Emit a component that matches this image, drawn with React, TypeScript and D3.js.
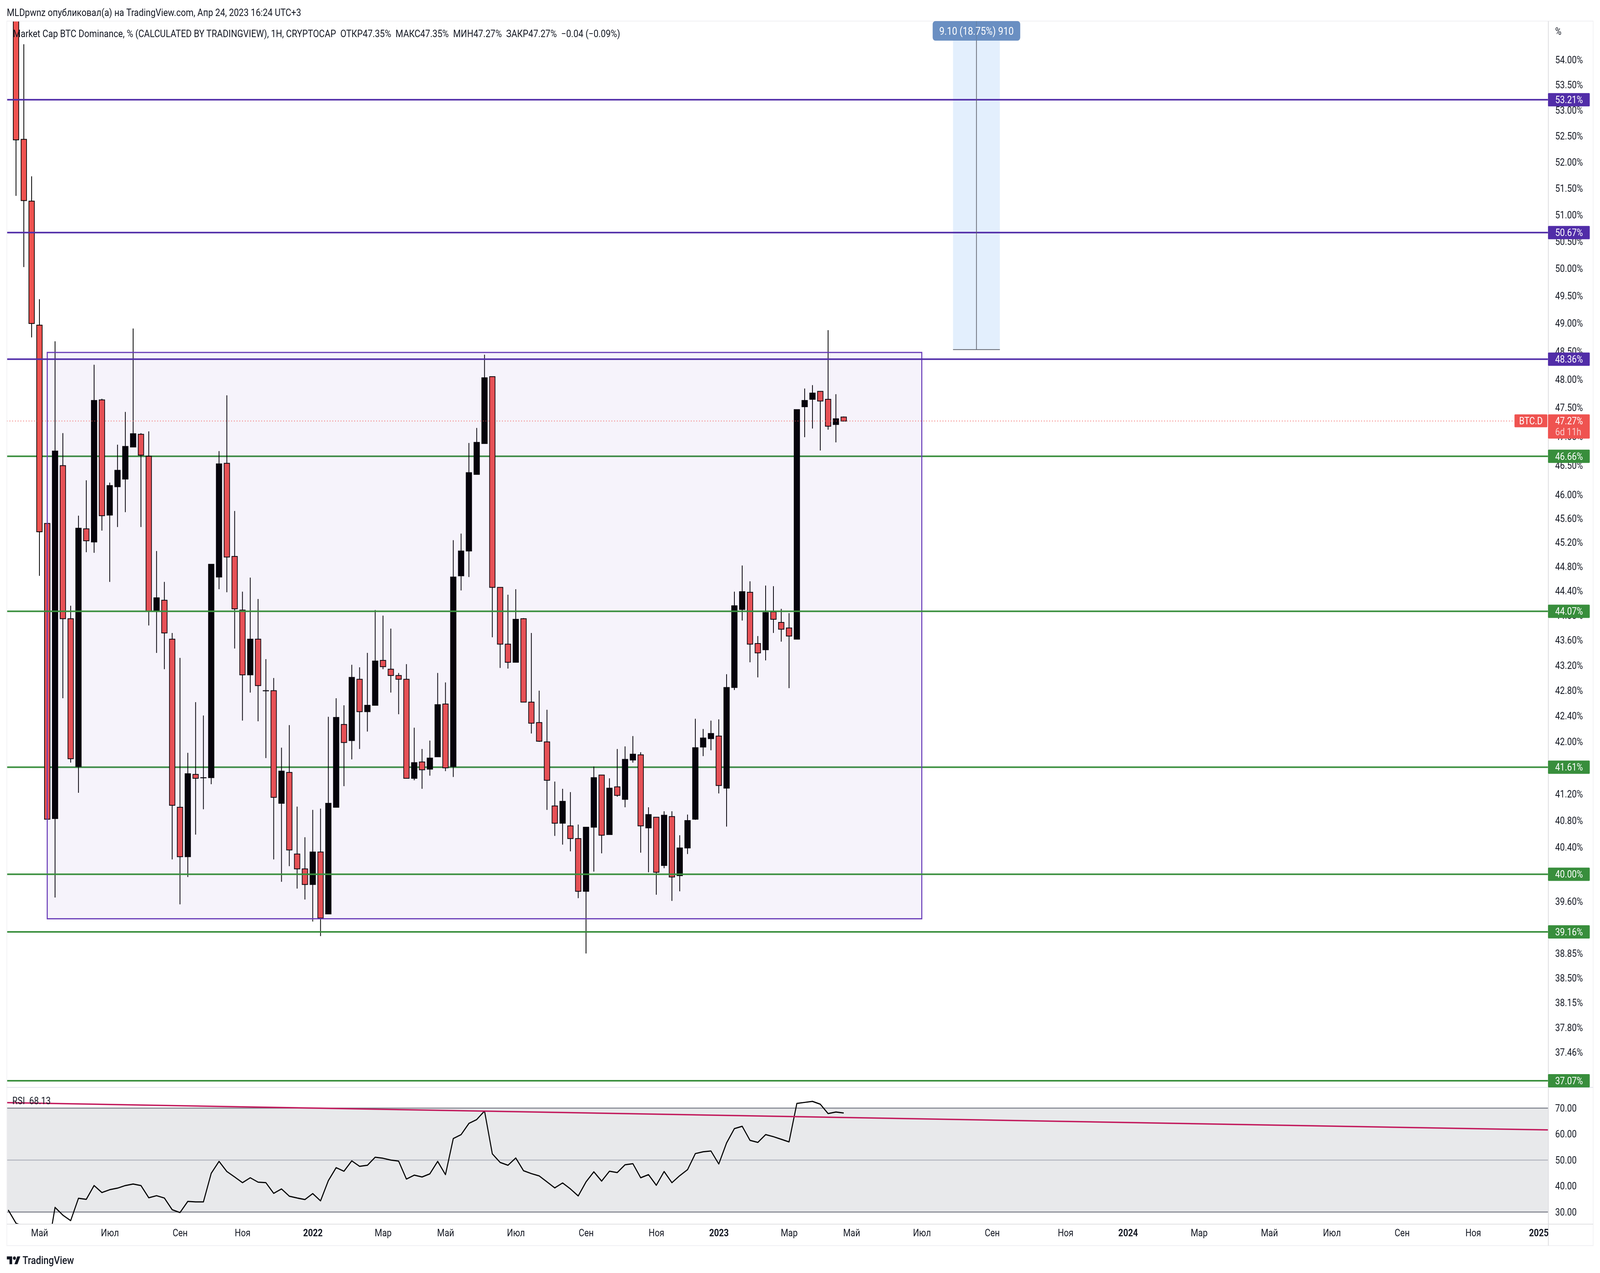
import * as d3 from "d3";
import { useEffect, useRef } from "react";

const opens = [56.0, 52.44, 51.26, 48.97, 45.52, 40.83, 46.5, 43.95, 41.62, 45.43, 45.21, 47.64, 45.66, 46.14, 46.27, 46.82, 47.04, 46.66, 44.07, 44.25, 43.62, 41.0, 40.26, 41.5, 41.45, 41.45, 44.63, 46.54, 44.97, 44.09, 43.05, 43.62, 42.8, 42.8, 41.06, 41.53, 40.3, 40.08, 39.85, 40.33, 39.42, 41.0, 42.27, 42.02, 42.98, 42.47, 42.57, 43.28, 43.14, 43.04, 42.98, 41.44, 41.69, 41.58, 41.77, 42.59, 41.62, 44.65, 45.06, 46.35, 46.88, 48.05, 44.46, 43.54, 43.25, 43.95, 42.62, 42.3, 42.0, 41.02, 40.76, 40.72, 40.53, 39.75, 40.7, 41.49, 40.59, 41.31, 41.12, 41.72, 41.8, 40.69, 40.85, 40.13, 40.86, 39.98, 40.39, 40.82, 41.92, 42.05, 42.09, 41.29, 42.85, 44.1, 44.38, 43.55, 43.45, 44.06, 43.89, 43.8, 43.62, 47.52, 47.65, 47.79, 47.65, 47.21, 47.34];
const highs = [56.0, 54.31, 51.73, 49.44, 45.52, 48.68, 47.06, 44.16, 45.65, 46.25, 48.26, 47.66, 46.21, 46.86, 47.43, 48.91, 47.06, 47.09, 45.06, 44.55, 43.72, 43.32, 41.83, 42.62, 42.41, 44.84, 46.75, 47.72, 45.73, 44.39, 44.62, 44.27, 43.3, 43.0, 41.91, 42.26, 41.01, 40.55, 40.96, 40.98, 42.39, 42.68, 42.57, 43.21, 43.17, 43.4, 44.09, 44.0, 43.79, 43.08, 43.22, 42.22, 41.89, 42.02, 43.08, 42.93, 45.24, 45.35, 46.89, 47.15, 48.44, 48.05, 44.46, 44.34, 44.43, 43.96, 43.72, 42.8, 42.5, 41.39, 41.28, 41.23, 40.74, 40.7, 41.62, 41.49, 41.44, 41.89, 41.93, 42.09, 41.84, 41.0, 40.85, 40.94, 40.94, 40.58, 40.89, 42.36, 42.2, 42.33, 42.35, 43.06, 44.39, 44.82, 44.56, 43.67, 44.49, 44.48, 44.11, 44.04, 47.47, 47.84, 47.9, 47.79, 48.88, 47.74, 47.35];
const lows = [51.36, 50.03, 48.75, 44.65, 40.82, 39.66, 42.68, 41.68, 41.22, 45.04, 45.03, 45.4, 44.55, 45.46, 45.71, 46.82, 45.46, 43.84, 43.4, 43.14, 40.22, 39.56, 39.96, 40.59, 40.97, 41.35, 44.43, 44.38, 43.47, 42.33, 42.77, 42.32, 41.75, 40.22, 39.89, 40.12, 39.79, 39.63, 39.31, 39.1, 39.42, 41.0, 41.32, 41.73, 41.89, 42.16, 42.57, 43.14, 42.77, 42.43, 41.44, 41.41, 41.28, 41.48, 41.77, 41.55, 41.46, 44.41, 44.63, 46.35, 46.88, 43.65, 43.16, 43.15, 43.25, 42.62, 42.13, 42.0, 40.96, 40.57, 40.44, 40.34, 39.65, 38.85, 40.04, 40.31, 40.59, 41.16, 41.0, 41.68, 40.32, 40.03, 39.7, 40.09, 39.61, 39.75, 40.3, 40.81, 41.78, 41.87, 41.21, 40.71, 42.81, 43.92, 43.25, 43.01, 43.28, 43.72, 43.58, 42.84, 43.62, 46.99, 47.14, 46.76, 47.12, 46.9, 47.27];
const closes = [52.43, 51.27, 49.0, 45.38, 40.82, 46.75, 43.95, 41.74, 45.44, 45.23, 47.63, 45.65, 46.16, 46.42, 46.83, 47.05, 46.68, 44.07, 44.29, 43.72, 41.03, 40.26, 41.51, 41.44, 41.45, 44.84, 46.53, 44.96, 44.11, 43.05, 43.62, 42.88, 42.8, 41.15, 41.55, 40.36, 40.08, 39.85, 40.33, 39.36, 41.06, 42.38, 41.99, 43.01, 42.47, 42.57, 43.27, 43.18, 43.04, 42.98, 41.44, 41.68, 41.57, 41.75, 42.58, 41.6, 44.63, 45.06, 46.38, 46.9, 48.03, 44.46, 43.54, 43.25, 43.94, 42.62, 42.29, 42.01, 41.41, 40.76, 41.09, 40.53, 39.75, 40.7, 41.45, 40.58, 41.29, 41.18, 41.73, 41.81, 40.72, 40.89, 40.03, 40.88, 39.96, 40.39, 40.8, 41.91, 42.06, 42.13, 41.33, 42.85, 44.16, 44.39, 43.54, 43.4, 44.05, 43.94, 43.78, 43.67, 47.47, 47.63, 47.76, 47.62, 47.18, 47.31, 47.27];

// RSI starts one bar before the first candle
const rsiValues = [30.8, 25.7, 24.5, 21, 18, 14, 31.8, 28.8, 26.7, 35.3, 34.9, 40.2, 37.5, 38.6, 39.2, 40.2, 40.8, 40.2, 35.5, 36.3, 35.4, 30.9, 29.8, 34.1, 33.9, 33.9, 44.9, 49.5, 45.6, 43.5, 41.3, 43.2, 41.5, 41.3, 37.2, 38.9, 36.1, 35.4, 34.8, 37.1, 34.3, 42.1, 47.1, 45.7, 49.7, 47.6, 48.0, 51.1, 50.7, 50.0, 49.6, 42.7, 44.2, 43.5, 44.7, 49.5, 44.4, 58.3, 59.8, 64.1, 65.6, 68.9, 52.4, 49.1, 48.0, 50.8, 45.9, 44.8, 43.9, 41.6, 39.3, 41.2, 38.9, 36.2, 41.6, 45.5, 41.9, 45.7, 45.2, 48.2, 48.6, 43.2, 44.4, 40.3, 45.6, 41.3, 44.0, 46.3, 52.5, 53.2, 53.5, 48.5, 56.6, 62.1, 63.0, 57.6, 56.8, 59.8, 59.0, 58.0, 57.0, 71.8, 72.2, 72.6, 71.5, 67.9, 68.5, 68.13];

const priceTicks = [54, 53.5, 53, 52.5, 52, 51.5, 51, 50.5, 50, 49.5, 49, 48.5, 48, 47.5, 47, 46.5, 46, 45.6, 45.2, 44.8, 44.4, 44, 43.6, 43.2, 42.8, 42.4, 42, 41.6, 41.2, 40.8, 40.4, 40, 39.6, 38.85, 38.5, 38.15, 37.8, 37.46];
const rsiTicks = [70, 60, 50, 40, 30];

const timeLabels = ["Май", "Июл", "Сен", "Ноя", "2022", "Мар", "Май", "Июл", "Сен", "Ноя", "2023", "Мар", "Май", "Июл", "Сен", "Ноя", "2024", "Мар", "Май", "Июл", "Сен", "Ноя", "2025"];
const timeIndex = [3, 12, 21, 29, 38, 47, 55, 64, 73, 82, 90, 99, 107, 116, 125, 134.4, 142.4, 151.5, 160.5, 168.5, 177.5, 186.6, 195];

const purpleLevels = [53.21, 50.67, 48.36];
const greenLevels = [46.66, 44.07, 41.61, 40.0, 39.16, 37.07];
const levelsUnderCandles = [46.66, 41.61];

const zoneTop = 48.48;
const zoneBottom = 39.35;
const zoneStart = 4;
const zoneEnd = 116;

const positionBottom = 48.53;
const positionTop = 57.63;
const positionStart = 120;
const positionEnd = 126;

const trendStart = { bar: -1.17, value: 72.1 };
const trendEnd = { bar: 196.2, value: 61.6 };

const lastPrice = 47.27;
const RED = "#ef5350";
const GREEN = "#388e3c";
const PURPLE = "#512da8";
const TEXT = "#131722";
const FONT = "Roboto, sans-serif";

const W = 4678;
const H = 3258;
const left = 20;
const axisX = 4527;
const rightEdge = 4658;
const top = 54;
const paneBottom = 2783;
const rsiBottom = 3133;
const bottom = 3188;

export default function App() {
  const ref = useRef<SVGSVGElement | null>(null);

  useEffect(() => {
    if (!ref.current) return;
    const svg = d3.select(ref.current);
    svg.selectAll("*").remove();
    svg.attr("font-family", FONT);

    const x = d3.scaleLinear().domain([0, 106]).range([46.8, 46.8 + 22.83 * 106]);
    const y = d3.scaleLog().domain([54, 37.07]).range([153, 2766]);
    const r = d3.scaleLinear().domain([70, 30]).range([2836, 3102]);

    const defs = svg.append("defs");
    const addClip = (id: string, yy: number, h: number) =>
      defs.append("clipPath").attr("id", id).append("rect")
        .attr("x", left).attr("y", yy).attr("width", axisX - left).attr("height", h);
    addClip("main", top, paneBottom - top);
    addClip("rsi", paneBottom, rsiBottom - paneBottom);
    addClip("time", rsiBottom, bottom - rsiBottom);

    svg.append("rect").attr("width", W).attr("height", H).attr("fill", "#fff");

    const main = svg.append("g").attr("clip-path", "url(#main)");

    const drawLevels = (values: number[], color: string) => {
      main.append("g").selectAll("line").data(values).enter().append("line")
        .attr("x1", left).attr("x2", axisX)
        .attr("y1", (d) => y(d)).attr("y2", (d) => y(d))
        .attr("stroke", color).attr("stroke-width", 4);
    };

    // long position box
    main.append("rect")
      .attr("x", x(positionStart)).attr("width", x(positionEnd) - x(positionStart))
      .attr("y", y(positionTop)).attr("height", y(positionBottom) - y(positionTop))
      .attr("fill", "#e3effd");
    main.append("line")
      .attr("x1", x(positionStart)).attr("x2", x(positionEnd))
      .attr("y1", y(positionBottom)).attr("y2", y(positionBottom))
      .attr("stroke", "#5d606b").attr("stroke-width", 2);

    drawLevels(levelsUnderCandles, GREEN);

    const bars = d3.range(opens.length);

    main.append("g").selectAll("line").data(bars).enter().append("line")
      .attr("x1", (i) => x(i)).attr("x2", (i) => x(i))
      .attr("y1", (i) => y(highs[i])).attr("y2", (i) => y(lows[i]))
      .attr("stroke", "#000").attr("stroke-width", 2.3);

    const bodyTop = (i: number) => y(Math.max(opens[i], closes[i]));
    const bodyBottom = (i: number) => y(Math.min(opens[i], closes[i]));
    main.append("g").selectAll("rect").data(bars).enter().append("rect")
      .attr("x", (i) => x(i) - 8)
      .attr("width", 16)
      .attr("y", (i) => bodyTop(i))
      .attr("height", (i) => Math.max(bodyBottom(i) - bodyTop(i), 0.5))
      .attr("fill", (i) => (closes[i] < opens[i] ? RED : "#000"))
      .attr("stroke", "#000").attr("stroke-width", 2);

    // range box sits over the candles, that's why its edge shows through them
    main.append("rect")
      .attr("x", x(zoneStart)).attr("width", x(zoneEnd) - x(zoneStart))
      .attr("y", y(zoneTop)).attr("height", y(zoneBottom) - y(zoneTop))
      .attr("fill", "#673ab7").attr("fill-opacity", 0.06)
      .attr("stroke", "#673ab7").attr("stroke-width", 3);

    drawLevels(purpleLevels, PURPLE);
    drawLevels(greenLevels.filter((v) => !levelsUnderCandles.includes(v)), GREEN);

    main.append("line")
      .attr("x1", x(123)).attr("x2", x(123))
      .attr("y1", top).attr("y2", y(positionBottom))
      .attr("stroke", "#5d606b").attr("stroke-width", 2);

    main.append("line")
      .attr("x1", left).attr("x2", 4428)
      .attr("y1", y(lastPrice)).attr("y2", y(lastPrice))
      .attr("stroke", RED).attr("stroke-width", 2).attr("stroke-dasharray", "2 6");

    // RSI pane
    const rsiPane = svg.append("g").attr("clip-path", "url(#rsi)");
    rsiPane.append("rect")
      .attr("x", left).attr("width", axisX - left)
      .attr("y", r(70)).attr("height", r(30) - r(70))
      .attr("fill", "#e8e9eb");
    rsiPane.append("g").selectAll("line").data([70, 50, 30]).enter().append("line")
      .attr("x1", left).attr("x2", axisX)
      .attr("y1", (d) => r(d)).attr("y2", (d) => r(d))
      .attr("stroke", (d) => (d === 50 ? "#b2b5be" : "#787b86"))
      .attr("stroke-width", 2.5);
    const rsiLine = d3.line<number>().x((_, i) => x(i - 1)).y((d) => r(d));
    rsiPane.append("path").attr("d", rsiLine(rsiValues))
      .attr("fill", "none").attr("stroke", "#000").attr("stroke-width", 3).attr("stroke-linejoin", "round");
    rsiPane.append("line")
      .attr("x1", x(trendStart.bar)).attr("x2", x(trendEnd.bar))
      .attr("y1", r(trendStart.value)).attr("y2", r(trendEnd.value))
      .attr("stroke", "#c2185b").attr("stroke-width", 3.5);

    // frame and separators
    const frame = svg.append("g");
    frame.append("rect").attr("x", left).attr("y", top)
      .attr("width", rightEdge - left).attr("height", bottom - top)
      .attr("fill", "none").attr("stroke", "#f0f0f3").attr("stroke-width", 2);
    frame.append("line").attr("x1", axisX).attr("x2", axisX).attr("y1", top).attr("y2", bottom)
      .attr("stroke", "#e0e0e3").attr("stroke-width", 2.5);
    frame.append("line").attr("x1", left).attr("x2", rightEdge).attr("y1", paneBottom).attr("y2", paneBottom)
      .attr("stroke", "#e0e3eb").attr("stroke-width", 2);
    frame.append("line").attr("x1", left).attr("x2", rightEdge).attr("y1", rsiBottom).attr("y2", rsiBottom)
      .attr("stroke", "#e0e0e3").attr("stroke-width", 2);

    // axes
    const priceAxis = svg.append("g")
      .attr("transform", "translate(4547,0)")
      .call(d3.axisRight(y).tickValues(priceTicks).tickSize(0).tickPadding(0)
        .tickFormat((d) => `${(+d).toFixed(2)}%`));
    const rsiAxis = svg.append("g")
      .attr("transform", "translate(4547,0)")
      .call(d3.axisRight(r).tickValues(rsiTicks).tickSize(0).tickPadding(0)
        .tickFormat((d) => (+d).toFixed(2)));
    const timeAxis = svg.append("g")
      .attr("clip-path", "url(#time)")
      .append("g")
      .attr("transform", "translate(0,3146)")
      .call(d3.axisBottom(x).tickValues(timeIndex).tickSize(0).tickPadding(0)
        .tickFormat((_, i) => timeLabels[i]));
    [priceAxis, rsiAxis, timeAxis].forEach((a) => {
      a.select(".domain").remove();
      a.attr("font-family", FONT).attr("font-size", 25);
      a.selectAll("text").attr("fill", TEXT);
    });
    timeAxis.selectAll<SVGTextElement, number>("text")
      .attr("font-weight", (_, i) => (/^\d/.test(timeLabels[i]) ? 700 : 400));

    // price tags
    const tagData = [
      ...purpleLevels.map((v) => ({ v, c: PURPLE })),
      ...greenLevels.map((v) => ({ v, c: GREEN })),
    ];
    const tags = svg.append("g").selectAll("g").data(tagData).enter().append("g");
    tags.append("rect").attr("x", 4526).attr("width", 122).attr("y", (d) => y(d.v) - 17).attr("height", 34)
      .attr("rx", 2).attr("fill", (d) => d.c);
    tags.append("text").attr("x", 4547).attr("y", (d) => y(d.v)).attr("dy", "0.35em")
      .attr("fill", "#fff").attr("font-size", 25).text((d) => `${d.v.toFixed(2)}%`);

    const py = y(lastPrice);
    svg.append("rect").attr("x", 4526).attr("y", py - 17).attr("width", 122).attr("height", 62).attr("rx", 2).attr("fill", RED);
    svg.append("text").attr("x", 4547).attr("y", py).attr("dy", "0.35em").attr("fill", "#fff").attr("font-size", 25).text(`${lastPrice.toFixed(2)}%`);
    svg.append("text").attr("x", 4547).attr("y", py + 28).attr("dy", "0.35em").attr("fill", "#fff").attr("fill-opacity", 0.7).attr("font-size", 25).text("6d 11h");
    svg.append("rect").attr("x", 4428).attr("y", py - 17).attr("width", 96).attr("height", 33).attr("rx", 2).attr("fill", RED);
    svg.append("text").attr("x", 4476).attr("y", py).attr("dy", "0.35em").attr("text-anchor", "middle").attr("fill", "#fff").attr("font-size", 25).text("BTC.D");

    svg.append("text").attr("x", 4547).attr("y", 80).attr("dy", "0.35em").attr("fill", TEXT).attr("font-size", 25).text("%");

    // position label
    const labelX = x(123);
    svg.append("rect").attr("x", labelX - 128).attr("y", 54).attr("width", 256).attr("height", 50).attr("rx", 8)
      .attr("fill", "#6a8fc2");
    svg.append("line").attr("x1", labelX).attr("x2", labelX).attr("y1", 54).attr("y2", 104)
      .attr("stroke", "#5d606b").attr("stroke-opacity", 0.35).attr("stroke-width", 2);
    svg.append("text").attr("x", labelX).attr("y", 80).attr("dy", "0.35em").attr("text-anchor", "middle")
      .attr("fill", "#fff").attr("font-size", 27).text("9.10 (18.75%) 910");

    // header texts
    svg.append("text").attr("x", 20).attr("y", 32).attr("dy", "0.35em").attr("fill", TEXT).attr("font-size", 25.6)
      .text("MLDpwnz опубликовал(а) на TradingView.com, Апр 24, 2023 16:24 UTC+3");
    svg.append("text").attr("x", 38).attr("y", 86).attr("dy", "0.35em").attr("fill", TEXT).attr("font-size", 25.7)
      .style("white-space", "pre")
      .text("Market Cap BTC Dominance, % (CALCULATED BY TRADINGVIEW), 1H, CRYPTOCAP  ОТКР47.35%  МАКС47.35%  МИН47.27%  ЗАКР47.27%  −0.04 (−0.09%)");
    svg.append("text").attr("x", 36).attr("y", 2817).attr("dy", "0.35em").attr("fill", TEXT).attr("font-size", 25)
      .style("white-space", "pre").text("RSI  68.13");

    // logo
    const logo = svg.append("g").attr("transform", "translate(20,3211) scale(1.11)").attr("fill", "#131722");
    logo.append("path").attr("d", "M14 22H7V11H0V4h14v18zM28 22h-8l7.5-18h8L28 22z");
    logo.append("circle").attr("cx", 20).attr("cy", 8).attr("r", 4);
    svg.append("text").attr("x", 66).attr("y", 3226).attr("dy", "0.35em").attr("fill", TEXT)
      .attr("font-size", 27).attr("font-weight", 500).text("TradingView");
  }, []);

  // the window came out narrower than 4678 on the first run, so fill whatever it is
  return (
    <svg
      ref={ref}
      viewBox={`0 0 ${W} ${H}`}
      preserveAspectRatio="none"
      style={{ position: "fixed", left: 0, top: 0, width: "100vw", height: "100vh", display: "block" }}
    />
  );
}
